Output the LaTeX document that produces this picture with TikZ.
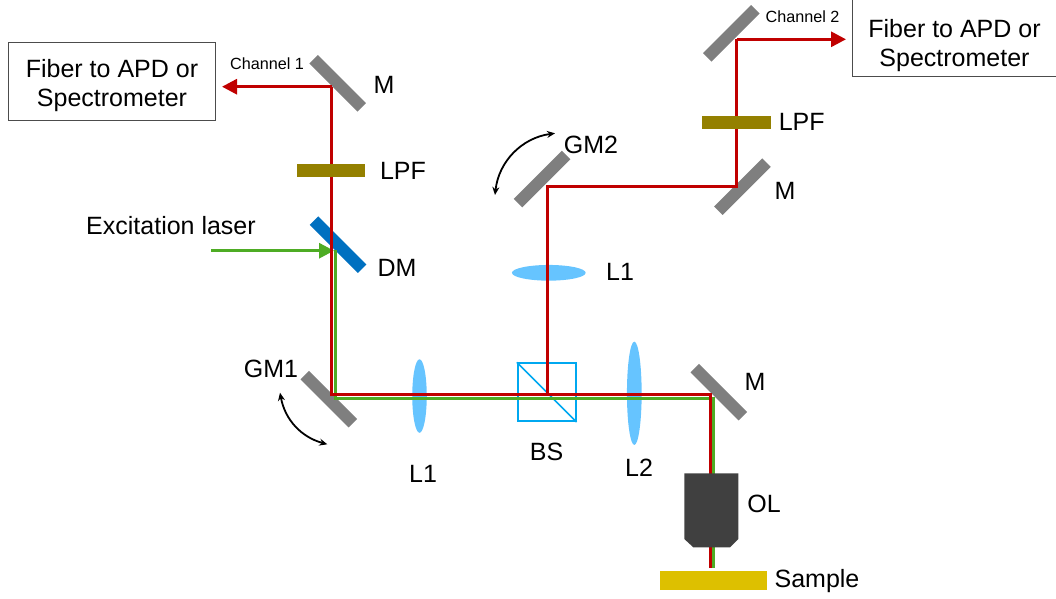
\documentclass[tikz,border=0pt]{standalone}
\usepackage{fontspec}
\setmainfont{Liberation Sans}
\usetikzlibrary{shapes.geometric,arrows.meta}
\definecolor{beamred}{HTML}{C00000}
\definecolor{beamgreen}{HTML}{4EAC24}
\definecolor{mirrorgray}{HTML}{7F7F7F}
\definecolor{dmblue}{HTML}{0070C0}
\definecolor{lensblue}{HTML}{66C4FF}
\definecolor{cubeblue}{HTML}{00A8F0}
\definecolor{filterolive}{HTML}{948000}
\definecolor{sampleyellow}{HTML}{DDC000}
\definecolor{objgray}{HTML}{404040}
\tikzset{
  mirror/.style={rectangle, minimum width=68pt, minimum height=12pt, fill=mirrorgray},
  filterbar/.style={rectangle, minimum width=68.5pt, minimum height=12.8pt, fill=filterolive},
  lens/.style={ellipse, fill=lensblue},
  label/.style={font=\fontsize{25}{29}\selectfont, text=black},
  chlabel/.style={font=\fontsize{16.2}{19}\selectfont, text=black},
  fiberbox/.style={rectangle, draw=black!70, line width=1pt, fill=white},
  redbeam/.style={line width=3pt, color=beamred},
  greenbeam/.style={line width=3pt, color=beamgreen},
  swing/.style={line width=1.8pt, color=black, {Stealth[length=8pt,width=7pt]}-{Stealth[length=8pt,width=7pt]}}
}
\begin{document}
\begin{tikzpicture}
[every node/.style={inner sep=0pt}]
\useasboundingbox (0pt, 0pt) rectangle (1056pt, -598pt);
% optics below the beams
\node (m1) [mirror, rotate=-45] at (337.7pt, -83.3pt) {};
\node (dm) [mirror, rotate=-45, fill=dmblue] at (338pt, -244.7pt) {};
\node (gm1) [mirror, rotate=-45] at (328.8pt, -399.2pt) {};
\node (m2) [mirror, rotate=-45] at (718.8pt, -392.2pt) {};
\node (gm2) [mirror, rotate=45] at (542pt, -179pt) {};
\node (m3) [mirror, rotate=45] at (742.5pt, -186.7pt) {};
\node (m4) [mirror, rotate=45] at (731.3pt, -33.3pt) {};
\node (l1a) [lens, minimum width=14.5pt, minimum height=73.5pt] at (419.5pt, -396pt) {};
\node (l2) [lens, minimum width=14.7pt, minimum height=103.3pt] at (634.3pt, -393.3pt) {};
\node (l1b) [lens, minimum width=73.7pt, minimum height=15.7pt] at (548.8pt, -272.8pt) {};
\node (bs) [rectangle, draw=cubeblue, line width=1.8pt, minimum size=58pt] at (546.7pt, -392.2pt) {};
\draw [line width=1.5pt, color=cubeblue] (bs.north west) to (bs.south east);
% boxes
\node (box1) [fiberbox, minimum width=207pt, minimum height=77.6pt] at (112pt, -81.2pt) {};
\node (box1text) [label, align=center] at (112pt, -85.7pt) {Fiber to APD or\\Spectrometer};
\node (box2) [fiberbox, minimum width=210pt, minimum height=80pt] at (957pt, -36.7pt) {};
\node (box2text) [label, align=center] at (954.5pt, -45.5pt) {Fiber to APD or\\Spectrometer};
% beam corners
\coordinate (c1) at (331.6pt, -86.7pt);
\coordinate (c2) at (331.6pt, -394pt);
\coordinate (c3) at (710.3pt, -394pt);
\coordinate (c4) at (710.3pt, -568pt);
\coordinate (c5) at (547.7pt, -394pt);
\coordinate (c6) at (547.7pt, -186pt);
\coordinate (c7) at (736.7pt, -186pt);
\coordinate (c8) at (736.7pt, -39.3pt);
\coordinate (g0) at (211pt, -250.7pt);
\coordinate (g1) at (334pt, -250.7pt);
\coordinate (g2) at (335pt, -249.5pt);
\coordinate (g3) at (335pt, -398pt);
\coordinate (g4) at (713.7pt, -398pt);
\coordinate (g5) at (713.7pt, -568pt);
% beams
\draw [greenbeam, line join=miter] (g2) -- (g3) -- (g4) -- (g5);
\draw [greenbeam, -{Triangle[length=15pt,width=15pt]}] (g0) to (g1);
\draw [redbeam, line join=miter] (c4) -- (c3) -- (c2) -- (c1);
\draw [redbeam, line join=miter] (c5) -- (c6) -- (c7) -- (c8);
\coordinate (tip1) at (222pt, -86.7pt);
\coordinate (tip2) at (846pt, -39.3pt);
\draw [redbeam, -{Triangle[length=15pt,width=15pt]}] (c1) to (tip1);
\draw [redbeam, -{Triangle[length=15pt,width=15pt]}] (c8) to (tip2);
% parts on top of the beams
\node (lpf1) [filterbar] at (331pt, -170.5pt) {};
\node (lpf2) [filterbar] at (736.5pt, -122.3pt) {};
\fill [objgray] (684.3pt, -473.3pt) -- (738.3pt, -473.3pt) -- (738.3pt, -539pt) -- (730pt, -547.3pt) -- (693.3pt, -547.3pt) -- (684.3pt, -539pt) -- cycle;
\node (sample) [rectangle, fill=sampleyellow, minimum width=107pt, minimum height=18.7pt] at (713.5pt, -580.3pt) {};
% rotation arrows
\coordinate (s1) at (280pt, -392.7pt);
\coordinate (s2) at (327.3pt, -444.3pt);
\coordinate (s3) at (555pt, -133.3pt);
\coordinate (s4) at (495pt, -195pt);
\draw [swing] (s1) to [bend right=32] (s2);
\draw [swing] (s3) to [bend right=38] (s4);
% labels
\node (channel1) [chlabel] at (267pt, -64pt) {Channel 1};
\node (channel2) [chlabel] at (802.5pt, -17pt) {Channel 2};
\node (m1label) [label] at (384pt, -85pt) {M};
\node (lpf1label) [label] at (403pt, -171pt) {LPF};
\node (laser) [label] at (171pt, -226pt) {Excitation laser};
\node (dmlabel) [label] at (397pt, -268pt) {DM};
\node (gm1label) [label] at (271pt, -369pt) {GM1};
\node (l1alabel) [label] at (423pt, -474pt) {L1};
\node (bslabel) [label] at (546.5pt, -452pt) {BS};
\node (l2label) [label] at (639pt, -468pt) {L2};
\node (m2label) [label] at (755pt, -382pt) {M};
\node (ollabel) [label] at (764pt, -504pt) {OL};
\node (samplelabel) [label] at (817pt, -581.5pt) {Sample};
\node (l1blabel) [label] at (620pt, -272pt) {L1};
\node (gm2label) [label] at (591pt, -145pt) {GM2};
\node (lpf2label) [label] at (801.7pt, -122pt) {LPF};
\node (m3label) [label] at (785pt, -191pt) {M};
\end{tikzpicture}
\end{document}
